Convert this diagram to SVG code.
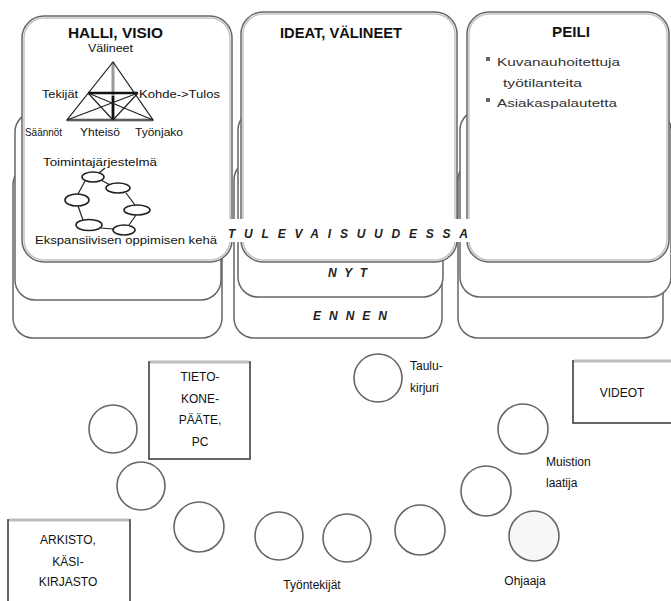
<svg xmlns="http://www.w3.org/2000/svg" width="671" height="601" viewBox="0 0 671 601">
<style>
.card{fill:#fff;stroke:#666;stroke-width:1.5}
.hi{fill:none;stroke:#c4c4c4;stroke-width:1.5}
.box{fill:#fff;stroke:#555;stroke-width:1.8}
.boxtop{stroke:#bdbdbd;stroke-width:3}
.circ{fill:#fff;stroke:#666;stroke-width:1.6}
.t{font-family:"Liberation Sans",Arial,sans-serif;fill:#111}
.title{font-size:14px;font-weight:bold}
.lab{font-size:10.5px}
.lab2{font-size:12px}
.gray{fill:#333}
.it{font-size:12px;font-style:italic;font-weight:bold;fill:#222}
.ln{stroke:#222;stroke-width:1.2;fill:none}
.ell{fill:#fff;stroke:#222;stroke-width:1.6}
</style>

<g id="col-halli">
  <rect class="card" x="13" y="165" width="209" height="173" rx="20"/>
  <rect class="card" x="15" y="112" width="206" height="188" rx="20"/>
  <rect class="card" x="22" y="16" width="210" height="246" rx="22"/>
  <rect class="hi" x="24" y="18" width="206" height="242" rx="20"/>
  <text class="t title" x="115.5" y="38" text-anchor="middle" textLength="95" lengthAdjust="spacingAndGlyphs">HALLI, VISIO</text>
  <text class="t lab" x="110.5" y="52" text-anchor="middle" textLength="45" lengthAdjust="spacingAndGlyphs">Välineet</text>
  <g id="triangle">
    <line x1="67" y1="120" x2="153" y2="120" stroke="#999" stroke-width="3"/>
    <line x1="113" y1="62" x2="113" y2="120" stroke="#999" stroke-width="3"/>
    <line x1="113" y1="96" x2="113" y2="120" stroke="#111" stroke-width="2.5"/>
    <polygon points="113,62 67,120 153,120" fill="none" stroke="#222" stroke-width="1.2"/>
    <line x1="88" y1="93" x2="138" y2="93" stroke="#111" stroke-width="2.5"/>
    <line class="ln" x1="88" y1="93" x2="153" y2="120"/>
    <line class="ln" x1="138" y1="93" x2="67" y2="120"/>
    <line class="ln" x1="88" y1="93" x2="113" y2="120"/>
    <line class="ln" x1="138" y1="93" x2="113" y2="120"/>
  </g>
  <text class="t lab" x="42" y="98" textLength="36" lengthAdjust="spacingAndGlyphs">Tekijät</text>
  <text class="t lab" x="139" y="98" textLength="81" lengthAdjust="spacingAndGlyphs">Kohde-&gt;Tulos</text>
  <text class="t lab" x="25" y="136" textLength="37" lengthAdjust="spacingAndGlyphs">Säännöt</text>
  <text class="t lab" x="80" y="136" textLength="40" lengthAdjust="spacingAndGlyphs">Yhteisö</text>
  <text class="t lab" x="135" y="136" textLength="48" lengthAdjust="spacingAndGlyphs">Työnjako</text>
  <text class="t lab" x="43" y="166" textLength="114" lengthAdjust="spacingAndGlyphs">Toimintajärjestelmä</text>
  <g id="cycle">
    <line class="ln" x1="105" y1="168" x2="99" y2="173"/>
    <line class="ln" x1="101" y1="180" x2="110" y2="185"/>
    <line class="ln" x1="85" y1="181" x2="78" y2="194"/>
    <line class="ln" x1="126" y1="193" x2="135" y2="205"/>
    <line class="ln" x1="78" y1="206" x2="83" y2="220"/>
    <line class="ln" x1="136" y1="215" x2="129" y2="225"/>
    <line class="ln" x1="101" y1="228" x2="113" y2="229"/>
    <ellipse class="ell" cx="93" cy="177" rx="11" ry="5"/>
    <ellipse class="ell" cx="118" cy="188" rx="12" ry="5"/>
    <ellipse class="ell" cx="77" cy="200" rx="12" ry="6"/>
    <ellipse class="ell" cx="137" cy="210" rx="13" ry="5"/>
    <ellipse class="ell" cx="89" cy="225" rx="13" ry="5.5"/>
    <ellipse class="ell" cx="124" cy="230" rx="11" ry="5"/>
  </g>
  <text class="t lab" x="35" y="244" textLength="182" lengthAdjust="spacingAndGlyphs">Ekspansiivisen oppimisen kehä</text>
</g>

<g id="col-ideat">
  <rect class="card" x="234" y="160" width="208" height="178" rx="20"/>
  <rect class="card" x="238" y="110" width="205" height="187" rx="20"/>
  <rect class="card" x="241" y="12" width="216" height="250" rx="22"/>
  <rect class="hi" x="243" y="14" width="212" height="246" rx="20"/>
  <text class="t title" x="341" y="38" text-anchor="middle" textLength="122" lengthAdjust="spacingAndGlyphs">IDEAT, VÄLINEET</text>
</g>

<g id="col-peili">
  <rect class="card" x="458" y="160" width="205" height="178" rx="20"/>
  <rect class="card" x="460" y="110" width="211" height="187" rx="20"/>
  <rect class="card" x="467" y="12" width="202" height="250" rx="22"/>
  <rect class="hi" x="469" y="14" width="198" height="246" rx="20"/>
  <text class="t title" x="571" y="37" text-anchor="middle" textLength="38" lengthAdjust="spacingAndGlyphs">PEILI</text>
  <rect x="486" y="57" width="4" height="4" fill="#666"/>
  <text class="t lab gray" x="497" y="66" textLength="123" lengthAdjust="spacingAndGlyphs">Kuvanauhoitettuja</text>
  <text class="t lab gray" x="503" y="87" textLength="79" lengthAdjust="spacingAndGlyphs">työtilanteita</text>
  <rect x="486" y="98" width="4" height="4" fill="#666"/>
  <text class="t lab gray" x="497" y="107" textLength="120" lengthAdjust="spacingAndGlyphs">Asiakaspalautetta</text>
</g>

<g id="time-labels">
  <rect x="226" y="219" width="244" height="23" fill="#fff"/>
  <text class="t it" x="228" y="238" textLength="240" lengthAdjust="spacing">TULEVAISUUDESSA</text>
  <text class="t it" x="328" y="277" textLength="39" lengthAdjust="spacing">NYT</text>
  <text class="t it" x="313" y="320" textLength="74" lengthAdjust="spacing">ENNEN</text>
</g>

<g id="tietokone">
  <rect class="box" x="149" y="362" width="101" height="97"/>
  <line class="boxtop" x1="150" y1="362" x2="249" y2="362"/>
  <text class="t lab2" x="200" y="381" text-anchor="middle">TIETO-</text>
  <text class="t lab2" x="200" y="403" text-anchor="middle">KONE-</text>
  <text class="t lab2" x="200" y="424" text-anchor="middle">PÄÄTE,</text>
  <text class="t lab2" x="200" y="446" text-anchor="middle">PC</text>
</g>

<g id="arkisto">
  <rect class="box" x="8" y="520" width="122" height="90"/>
  <line class="boxtop" x1="9" y1="520" x2="129" y2="520"/>
  <text class="t lab2" x="68" y="544" text-anchor="middle">ARKISTO,</text>
  <text class="t lab2" x="68" y="566" text-anchor="middle">KÄSI-</text>
  <text class="t lab2" x="68" y="586" text-anchor="middle">KIRJASTO</text>
</g>

<g id="videot">
  <rect class="box" x="573" y="361" width="110" height="62"/>
  <line class="boxtop" x1="574" y1="361" x2="671" y2="361"/>
  <text class="t lab2" x="622" y="397" text-anchor="middle">VIDEOT</text>
</g>

<g id="seat1"><circle class="circ" cx="113" cy="429" r="24"/></g>
<g id="seat2"><circle class="circ" cx="141" cy="486" r="24"/></g>
<g id="seat3"><circle class="circ" cx="199" cy="527" r="25"/></g>
<g id="seat4"><circle class="circ" cx="279" cy="536" r="24"/></g>
<g id="seat5"><circle class="circ" cx="347" cy="538" r="24"/></g>
<g id="seat6"><circle class="circ" cx="420" cy="530" r="25"/></g>
<g id="seat7"><circle class="circ" cx="486" cy="491" r="25"/></g>
<g id="taulukirjuri">
  <circle class="circ" cx="378" cy="378" r="24"/>
  <text class="t lab2" x="410" y="370">Taulu-</text>
  <text class="t lab2" x="410" y="392">kirjuri</text>
</g>
<g id="muistionlaatija">
  <circle class="circ" cx="523" cy="429" r="25"/>
  <text class="t lab2" x="546" y="466">Muistion</text>
  <text class="t lab2" x="546" y="487">laatija</text>
</g>
<g id="ohjaaja">
  <circle class="circ" cx="534" cy="536" r="25" style="fill:#f7f7f7"/>
  <text class="t lab2" x="525" y="585" text-anchor="middle">Ohjaaja</text>
</g>
<text id="tyontekijat" class="t lab2" x="312" y="589" text-anchor="middle">Työntekijät</text>
</svg>
